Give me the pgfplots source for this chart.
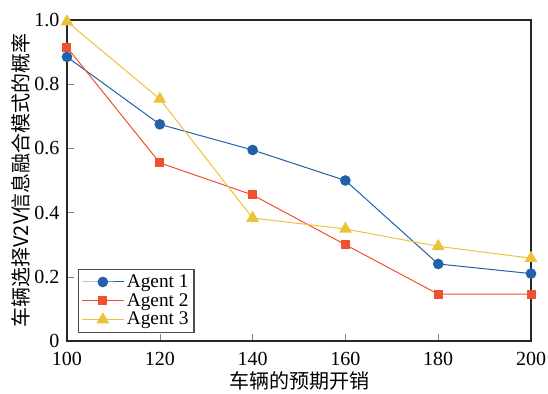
\documentclass[border=0pt]{standalone}
\usepackage{pgfplots}
\pgfplotsset{compat=1.18}
\usepackage{fontspec}
\setmainfont{Liberation Serif}
\newfontfamily\cjk{Noto Sans CJK SC}
\definecolor{c1}{HTML}{2260A8}
\definecolor{c2}{HTML}{F0502D}
\definecolor{c3}{HTML}{EDC23A}
\begin{document}
\begin{tikzpicture}
\begin{axis}[
  name=ax,
  scale only axis,
  width=348pt, height=240.75pt,
  xmin=100, xmax=200, ymin=0, ymax=1,
  xtick={100,120,...,200},
  ytick={0,0.2,0.4,0.6,0.8,1.0},
  yticklabels={0,0.2,0.4,0.6,0.8,1.0},
  tick align=inside, tick pos=left,
  major tick length=5pt,
  /pgf/number format/assume math mode=true,
  tick label style={font=\fontsize{15}{15}\selectfont},
  xticklabel style={anchor=north, yshift=-8pt, inner sep=0pt},
  yticklabel style={anchor=east, xshift=-5.5pt, inner sep=0pt},
  xlabel={\cjk 车辆的预期开销},
  ylabel={\cjk 车辆选择V2V信息融合模式的概率},
  label style={font=\fontsize{15}{15}\selectfont},
  xlabel style={at={(axis description cs:0.5,-0.125)}, anchor=center},
  ylabel style={at={(axis description cs:-0.1,0.5)}, anchor=center},
  axis line style={line width=1pt, black!85},
  legend style={at={(0.024,0.025)}, anchor=south west, draw=black!70, line width=1pt,
    font=\fontsize{14.5}{14.5}\selectfont, row sep=-1pt, inner sep=2pt},
  legend cell align=left,
  legend image code/.code={\draw[mark repeat=2,mark phase=2] plot coordinates {(0cm,0cm)(0.55cm,0cm)(1.1cm,0cm)};},
  every axis plot/.append style={line width=0.75pt},
]
\addplot[color=c1, mark=*, mark size=3.6pt] coordinates {(100,0.885)(120,0.675)(140,0.595)(160,0.50)(180,0.24)(200,0.21)};
\addlegendentry{Agent 1}
\addplot[color=c2, mark=square*, mark size=3pt] coordinates {(100,0.915)(120,0.555)(140,0.455)(160,0.30)(180,0.146)(200,0.146)};
\addlegendentry{Agent 2}
\addplot[color=c3, mark=triangle*, mark size=4.8pt] coordinates {(100,0.995)(120,0.754)(140,0.383)(160,0.349)(180,0.295)(200,0.258)};
\addlegendentry{Agent 3}
\end{axis}
\pgfresetboundingbox
\path[use as bounding box] ([shift={(-50.25pt,-39pt)}]ax.south west) rectangle ([shift={(12.75pt,15pt)}]ax.north east);
\end{tikzpicture}
\end{document}
